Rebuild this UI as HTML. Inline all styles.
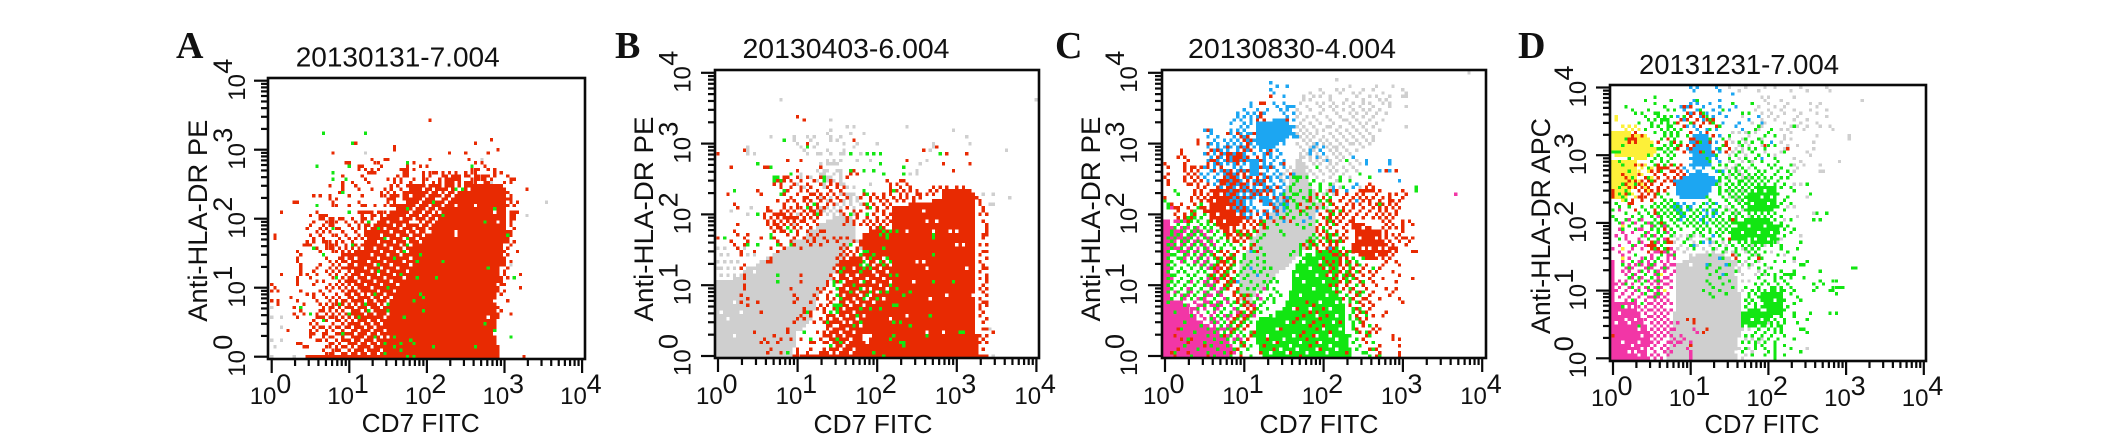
<!DOCTYPE html>
<html>
<head>
<meta charset="utf-8">
<title>CD7 vs HLA-DR dot plots</title>
<style>
html,body{margin:0;padding:0;background:#fff;width:2126px;height:445px;overflow:hidden}
svg{display:block}
text{font-family:"Liberation Sans",sans-serif;fill:#111}
.letter{font-family:"Liberation Serif",serif;font-weight:bold;font-size:38px}
</style>
</head>
<body>
<svg id="figure" width="2126" height="445" viewBox="0 0 2126 445" xmlns="http://www.w3.org/2000/svg"></svg>
<script>
// Values are cytometer channels: 24 channels per x decade, 21 per y decade.
// Rows are [yChannel, xChannel, xChannel, ...]; regions are [x,y,x,y,...] outlines of saturated populations.
const tickExponents = [0,1,2,3,4];
const minorMultipliers = [2,3,4,5,6,7,8,9];

const aRedRegions = [[24,0,24,28,28,31,30,38,34,42,42,47,46,52,60,53,72,52,73,42,71,27,69,17,70,4,71,0],[11,-0.5,35,-0.5,35,0.5,11,0.5]];
const aRedRows = [
[72,49],[66,68],[65,25,26,63],[64,38],[63,38,70],[62,19,55,60,67],[60,31,35,36,49,61],[59,24,23,32,33,42,44,63,65],[58,27,28,34,42,46,48,66],
[57,27,29,31,33,40,41,42,44,62,63,64,67,69],[56,30,31,32,41,42,47,49,50,51,53,55,57,60,62,63,69,71],[55,22,28,39,41,42,47,49,53,54,56,57,58,60,61,63,64,65,66,67,69,73],
[54,23,29,36,38,40,44,47,48,52,54,55,56,57,58,62,63,64,65,66,68,74,75],[53,22,25,30,38,40,43,47,50,52,54,55,56,58,60,61,62,63,66,67,72,74],[52,18,22,26,37,39,42,43,44,45,47,50,52,53,55,57,60],
[51,22,27,31,35,37,40,43,44,45,46,48,50,52,56,58,79],[50,21,22,34,36,38,41,42,43,44,45,47,48,50,51,53,55,73],[49,13,15,18,24,28,34,35,37,38,39,41,42,44,46,48,50,52,53,74],
[48,18,20,36,37,38,41,42,44,46,49,50,51,73,74],[47,7,8,19,27,36,38,42,44,46,48,49,50,52,74,76],[46,14,19,20,24,28,29,32,35,37,38,39,40,42,43,45,47,48,73,75],
[44,3,14,27,28,29,30,31,33,34,35,37,38,39,42,44,45,47,74,75,76],[43,12,15,16,17,28,31,32,34,36,38,39,41,43,44,47,48,74,75],[42,15,16,18,19,21,22,25,28,29,31,34,36,38,41,42,43,45,74,75],
[41,13,17,18,19,20,23,26,28,30,33,34,37,40,43,45,46,74],[40,12,16,18,19,24,27,29,30,33,35,37,38,42,44,74],[39,11,15,17,20,21,25,27,29,32,34,36,38,41,43,44,75],
[38,14,16,18,22,26,29,31,33,35,37,39,42,74,73],[37,1,12,15,19,20,23,27,29,31,32,34,36,38,40,41,43,74,73],[36,1,13,16,21,24,26,28,30,33,35,37,39,41,44,73],
[35,11,13,16,17,18,20,22,25,29,31,32,34,36,38,40,42,73,75],[34,10,11,12,17,18,19,20,23,26,28,30,33,35,37,39,43,74],[33,14,17,18,19,21,23,25,27,29,31,32,34,36,40,42,73],
[32,8,15,19,20,22,24,26,27,28,30,33,35,37,39,40,44,72,76],[31,9,16,22,23,24,25,26,27,28,29,31,34,36,38,43,73],[30,8,17,21,22,24,25,27,29,30,32,33,35,37,39,41,72],
[29,8,18,20,22,23,25,28,30,32,34,36,40,72,74],[28,9,15,19,21,24,26,27,29,31,33,35,37,39,42,72],[27,9,14,18,20,22,23,25,27,30,32,34,38,41,73],
[26,9,13,17,19,21,24,26,28,29,31,33,35,37,40,72],[25,3,9,11,14,18,20,23,25,27,30,32,34,36,39,72,77],[24,8,12,19,22,24,26,28,29,31,33,35,38,71,73],
[23,8,14,16,21,23,25,27,30,32,34,37,71],[22,0,8,13,18,20,22,24,26,28,29,31,33,36,71,72],[21,1,17,19,21,23,25,27,30,32,34,35,70,77],
[20,0,2,9,15,18,22,24,26,28,29,31,33,70,72],[19,11,13,16,20,23,25,27,30,32,34,69,71],[18,6,13,17,19,21,24,26,28,29,31,33,69],
[17,0,2,8,14,18,20,22,23,25,27,30,32,34,70,73],[16,2,10,15,17,19,20,21,22,24,26,28,29,31,33,68],[15,7,16,18,19,21,23,24,25,27,30,32,34,69,70],
[14,9,15,16,18,20,22,24,26,28,31,33,69,71],[13,7,10,14,17,19,21,23,25,27,29,30,32,34,68,70,74],[12,8,14,15,16,18,19,20,22,24,26,28,31,33,68,70],
[11,13,16,17,20,21,23,25,27,29,30,32,34,69],[10,12,14,19,22,24,26,28,29,31,33,68,69],[9,13,15,16,18,20,21,23,25,27,30,32,34,68],
[8,5,12,14,17,19,22,24,26,28,29,31,33,35,67,69],[7,12,13,16,17,20,21,23,25,27,30,32,34,68],[6,12,16,18,19,22,24,26,28,29,31,33,67],
[5,14,15,17,20,22,23,25,27,30,32,34,67,68],[4,8,9,18,19,21,24,26,28,29,31,33,67],[3,10,11,17,18,20,22,23,25,27,30,32,34,66,68],
[2,16,19,20,21,24,26,28,29,31,33,67],[1,17,18,19,22,23,25,27,30,32,34,66],[0,78]];
const aGreenRows = [[68,16,29],[65,25],[59,42],[58,14,24,62],[56,19],[54,19,23],[51,57,59],[50,22],[47,50],[46,14],[45,42,69],[44,24],[43,53],[41,30,66],[39,33,19],[37,73],[36,42,35],[34,25,42],[33,13],[32,41],[31,16,46],[30,38],[29,45,53],[28,33],[27,67],[26,33],[25,40],[24,20,45,51,75],[21,36],[19,32,46],[18,47],[17,44],[16,36,29,21],[15,9],[14,30,36,47],[13,12,24],[12,41,27],[11,16],[10,66],[8,69],[7,22],[6,74,32,38],[5,43],[4,35,40,44],[3,50,63,38],[2,40],[1,35],[0,42,44]];
const aGreyRows = [[62,29],[60,65],[55,73],[54,75],[53,68],[47,85],[43,79],[28,74],[17,0],[15,0],[12,3,0],[9,3],[5,0,3],[3,1],[0,0,7]];
const aHoleRows = [[51,61],[46,63,57],[44,69],[41,44,45,70],[38,57],[37,57],[17,70],[12,67],[7,69],
[1,24,27,30,33],[2,25,29,34],[3,24,26,31],[4,27,30,33,35],[5,25,28,32],[6,24,29,34,36],[7,26,30,33],[8,24,27,31,35],[9,25,29,32],[10,28,31,34],[11,24,26,30,33],[12,25,27,35],[13,29,32,36],[14,24,28,31],[15,26,30,34],[16,25,27,33,35],[17,24,29,32,36],[18,26,31,34,37],[19,25,28,30,35],[20,27,33,38],[21,24,26,31,36],[22,25,29,34,39],[23,27,32,37],[24,26,30,35,41],[25,24,28,33,38],[26,25,31,36,42],[27,29,34,39],[28,26,32,37,43],[29,30,35,41],[30,33,38,43],[31,31,36,40],[32,34,39,42],[33,32,37,41],[34,35,40,43],[35,33,38,42,46],[36,36,41,45],[37,34,39,43,47],[38,37,42,45,48,49],[39,35,40,44,48],[40,38,41,46,49],[41,36,43,47,50],[42,40,44,48,51],[43,42,46,49],[44,43,47,50,52],[45,44,48,51],[46,45,49,53],[47,46,50,54],[48,47,51,52,55],[49,48,53,56],[50,49,52,54,57],[51,47,50,55,58],[52,48,53,57,59]];

const bGreyRegions = [[-1,0,-1,22.6,4.5,22.6,9,26.5,14.6,29,24.6,34.5,29.6,38.4,34.7,41.4,37.7,42.4,40.7,41.4,41.7,34.5,37,28.5,33.7,21.6,29.6,16.6,28.6,10.7,23.6,6.7,22.6,0]];
const bGreyRows = [[76,96],[76,19],[70,34],[68,39,41,57],[67,34,71],[66,33,40,44],[65,16,23,27,29,34,37,75],[64,23,28,34,36,41],[63,24,30,38,42,48,65,76],[62,9,25,29,41,65],[61,9,26,33,38,64,87],[60,9,11,27,30,31,34,37,38,40,43],[58,33,35,37,42,46,63],[57,31,33,34,35,36,61],[55,30,32,33,36,37,60],[54,25,31,32,35,37,60,58],[53,25,28,33,34,37,39],[52,19,25,30,33,35,37],[51,24,32,34,36,37,38,46],[50,26,32,36,39,41],[48,33,35,37,39,40,41,80,83],[47,31,34,36,39,40,42,88],[46,31,33,38,40,42],[45,27,36,38,40,43,82,83],[44,10,31,33,35,37,39,41],[43,4,30,32,34,36],[42,9,24,33,35,37,41],[39,6,23,30,32,36],[36,24,27,39],[34,23,42,44],[32,0,2,8,21,43],[30,1,3,6,9,11,44],[28,0,2,4,6,42],[26,0,1,3,5,10],[24,1,3,5,7,9],[8,82],[0,83]];
const bRedRegions = [[52.8,44.4,59.8,45.3,66.8,46.3,67.8,49.3,75.9,49.3,77.9,46.3,78,26.5,77.9,6.7,79,0.8,82,0,30.7,0,32.7,6.7,33,12,36,14,37,28,44,30,44,36,48,38,53,38]];
const bRedRows = [
[71,24],[70,26],[64,41],[63,27],[62,66],[61,8,62],[60,0,69,75],[58,57,25,21],[57,12,68,76],[56,4,14,15,31],[55,71,24,41],[54,40,42],[53,17,20,21,24,27,31,39],[52,18,20,22,25,29,34,51,55,56],[51,17,19,23,27,31,34,36,52,54,57],[50,19,22,25,28,33,36,38,52,55,58,65,67,69,72,74],[49,12,21,25,27,30,34,37,44,52,54,56,58,60,64,66,68,69,70,73,76],
[48,3,13,20,24,28,29,31,33,35,38,44,47,50,52,55,57,60,61,63,65,69,71,77],[47,22,26,27,30,32,36,39,43,46,48,50,53,55,57,59,61,78],[46,18,21,23,26,28,31,34,37,46,49,51,54,56,59,79],[45,5,20,24,27,30,33,35,44,47,50,52,79],[44,6,15,20,22,24,25,28,30,32,39,45,48,51,80],[43,15,16,19,21,23,26,28,29,31,37,41,43,48,50,53,59,80],
[42,14,17,18,19,20,22,25,27,29,31,38,40,42,47,50,52,79,81],[41,14,16,18,20,21,22,23,24,26,28,30,39,42,45,48,51,53,55],[40,15,17,19,21,23,25,26,29,39,41,44,46,48,50,52,55,80],[39,6,15,17,18,20,22,24,27,30,38,41,43,45,47,49,51,53,81],[38,16,18,19,21,23,25,28,46,48,50,55,81],[37,5,17,19,20,22,24,27,31,32,53,55,57,81],
[36,6,9,21,24,28,30,44,46,50,52,80,81],[35,0,8,13,17,23,26,29,32,35,37,39,80],[34,4,9,18,22,27,29,33,36,41,43],[33,5,8,12,19,23,28,31,38,40,43,79,81],[32,6,16,20,25,37,39,42,45,47,50],[31,7,11,18,38,40,42,44,80,81],[30,7,37,39,41,43,79],[29,6,16,36,38,40,43,45,47,81],[28,15,16,37,39,42,45,47,79],
[27,8,36,38,41,44,46,48,50,80],[26,7,35,37,40,43,45,47,80,81],[25,36,38,42,44,48,79],[24,8,25,34,37,40,43,46,50,81],[23,8,35,38,41,44,47,79,81],[22,25,33,36,39,42,45,48,81],[21,8,33,35,38,41,44,46,80],[20,8,22,30,32,37,40,43,46,48,79,81],[19,31,34,36,39,42,45,80],[18,7,23,29,33,36,38,41,44,81],[17,9,24,30,33,35,38,40,43,79],
[16,7,12,23,28,34,37,39,42,80,81],[15,9,31,33,36,38,41,79,81],[14,26,30,32,35,37,40,79],[13,13,26,28,32,34,36,38,80],[12,28,25,33,35,79],[11,24,26,31,34,81],[10,23,29,32,80],[8,21,33,35,37,80,81],[7,11,21,30,32,34,83],[6,17,32,79,81],[5,14,19,22,25,31,34,80],[4,13,15,18,28,29,79,81],[2,16,24,28,80],[1,15,19,21,24,27],[0,23,24,25,26,27,28,29,30]];
const bGreenRows = [[64,20],[62,27],[60,40,45,47,49,67],[57,12,49],[56,16,56],[55,40,44,47],[54,22,50,56],[53,17,18,32],[52,17,19,32],[49,5,20,44,53],[48,19,45],[45,29,45],[44,27,46],[42,12,30,40,45],[38,49,21],[37,54,50,52,22],[36,16,65,49,51],[35,2,51,65,16],[33,18,9,12,22,40],[32,50],[31,44,45],[30,65,43,47],[29,46,51],[28,44,49,52],[27,43,45,50],[26,38,44,46],[25,37,43],[24,18,52,54],[22,18,35,37,44,65,71],[21,35,41,52],[20,36,43,54],[19,40,46,49,51,58],[18,36,45,56],[17,37,44,48],[15,35,36,37,53,54],[14,36,43,46,49],[13,27,34,36],[12,42,64],[10,33,43,53,55],[9,41,58],[7,26,73,74],[6,53,63],[5,28,36,52],[4,37,55,56],[3,34,56],[1,47,21],[0,50]];
const bHoleRows = [[30,4,6,8],[29,2,6,9],[27,2,5,11],[25,5,11],[16,5],[13,1,7],[11,3],[6,5],[43,62],[40,47,63,66],[37,57,65],[28,60,62],[22,59,65],[17,64],[12,57,64],[11,52],[6,44,45,46],[5,45,44],[4,45,31],[3,32,33],[37,70,72],[33,72,74],[26,63,75],[18,69,77],[7,63,68],
[29,44,46,50],[28,45,48,51],[27,44,47,52],[26,38,41,46,49],[25,37,43,47,51],[24,39,42,48],[23,36,40,45,50],[22,38,43,47,52],[21,37,41,49],[20,39,44,46,51],[19,36,40,42,48],[18,38,43,46],[17,37,41,45,50],[16,39,42,47],[15,36,40,44],[14,38,43,46],[13,35,41],[12,36,39,44],[11,34,37,42],[10,33,38,40],[9,35,36,43],[8,34,39],[7,33,37,41],[6,35,38],[5,33,36,40],[4,34,39],[3,35,38],[2,33,37,41],[1,34,36,40]];

const cPinkRegions = [[-1,0,-1,16.6,5.5,16.6,8.6,11.7,15.6,7.7,21.7,1.8,20.7,0],[-1,41,1.5,41,2,17,-1,17]];
const cPinkRows = [[44,1,2,3],[40,3,4,6],[38,2,3,5,7,10,14],[37,3,4,6,9,11,14,28],[36,2,3,5,8,12],[35,2,4,5,7,10,13],[34,3,6,9,11,14,30],[33,2,5,8,12,15],[32,3,4,7,10,13],[31,5,6,9,12,14],[30,2,3,7,11,15,33],[29,4,6,8,10,13],[28,2,5,9,12,16],[27,3,7,11,14],[26,2,5,8,13,16],[25,4,6,10,12,15],[24,3,7,9,14],[23,2,5,11,13,16],[22,4,8,10,12,15,28],[21,3,6,9,13,14],[20,5,7,11,15,17,30],[19,3,4,8,10,12,16,26],[18,5,6,7,9,13,14,17,28],[17,6,8,10,11,12,15,18,25,29],[16,9,12,13,14,16,19],[15,7,10,11,14,15,17,20,27],[14,8,9,12,16,18,21,28],[13,8,10,13,15,17,22,26],[12,9,11,14,16,18,20,24,27],[11,12,15,17,19,21,25],[10,14,16,18,20,23],[9,15,17,19,22],[8,17,18,20,21,24],[7,18,20,23],[6,19,22,24],[5,21,23],[3,24],[48,88]];
const cGreyRegions = [[21.7,18.6,22.7,26.5,26,34,33,44,38,52,40.8,61.2,46,45,46,36,41,30,35,25,28,19,24.7,14]];
const cGreyRows = [[84,92],[82,52],[80,56,64,69],[79,47,52,54,60,63,72],[78,44,48,53,57,59,66,73],[77,42,45,47,50,58,62,64,68,72,73],[76,42,44,50,55,60,65,67],[75,41,46,48,51,54,57,60,62,66,68],[74,43,47,50,52,56,59,63,68,73],[73,40,44,48,51,54,57,60,62,65],[72,39,41,47,52,56,58,61,64,67],[71,40,43,45,49,53,57,60,63],[70,39,42,46,50,54,55,58,62,66],[69,41,44,47,51,56,59,61,64],[68,40,42,45,49,50,53,57,60,63,73],[67,41,43,46,48,52,55,58,61,65],[66,40,42,44,46,50,53,56,59,62],[65,39,41,43,45,48,51,54,57,60,63],[64,42,44,47,49,52,55,58,61,63],[63,40,43,45,48,50,53,56,57,59,62],[62,41,44,46,49,51,52,54,60],[61,42,45,47,50,52,55,58],[60,43,46,48,51,53,56],[59,42,44,47,49,52,54,57],[58,41,44,46,48,50,53,55,58],[57,40,42,45,47,50,52,56,59],[56,38,40,43,46,49,51,54,57],[55,37,41,44,47,50,52,55,58],[54,36,39,42,45,48,51,54],[53,35,38,41,43,46,50,53,56],[52,36,40,42,45,48,52],[51,38,41,44,47,51],[50,37,40,43,47,50,53,59],[49,39,42,45,49,52,55,60],[48,41,44,48,51],[47,43,46,50],[45,46,47],[44,47,49]];
const cRedRegions = [[10.6,44.4,15.6,45.3,18.6,42.4,18.6,38.4,12.6,42.4],[13,46,19,55,24,52,25,42,20,37,14,40],[18.6,61,22.7,61,22.7,58,18.6,58],[56.5,40.4,65,37.4,66.5,32.5,68,29.5,62,28.5,56,30.5,57.5,34.5]];
const cRedRows = [
[77,32],[75,29,30],[72,29],[71,28,29],[70,28,30,37],[69,28,31],[68,23,30],[67,13,22,24,28],[66,14,19,22,25,27],[65,23,25,28],[64,10,15,20,24,26,30],[63,10,13,16,21,25,28,30],[62,13,16,19,23,25,27,31],[61,5,14,16,24,26,29,32],[60,5,13,15,17,19,23,27,31],[59,4,6,14,16,23,25,28],[58,7,14,15,16,18,24,26,29,33],[57,0,6,13,16,17,19,22,24,27,30,36],[56,1,6,8,9,11,13,15,17,21,23,26,29,32],[55,6,8,10,14,15,18,20,23,25,28,31,67,70],[54,1,7,9,11,13,16,18,20,22,24,27,29,38],
[53,0,6,8,10,12,18,20,22,24,26,28,31],[52,1,6,9,11,18,19,21,23,25,28,30],[51,1,7,8,10,13,18,20,22,24,27,29,33,62],[50,10,12,19,21,23,25,27,31,34,61,63],[49,9,11,14,18,20,22,24,26,28,30,32,50,52,59,60,61,62,63,65,72],[48,9,11,13,15,17,19,21,24,27,29,31,33,46,52,55,58,60,64,68,70,73],[47,0,8,10,12,14,16,18,20,22,25,26,33,36,44,48,54,57,59,61,63,66,68,72],[46,8,11,13,15,17,19,21,23,29,31,37,44,50,53,56,58,60,62,65,68,69,71],[45,2,5,9,17,19,20,22,24,32,35,41,48,51,55,57,59,62,64,66,68,70],[44,3,4,7,19,21,23,25,27,33,36,43,46,52,54,57,60,63,65,67,69,71],[43,4,8,19,20,22,24,26,30,34,41,46,49,51,54,56,59,62,65,67,70],[42,3,6,9,19,21,23,26,28,31,47,50,53,55,58,61,64,66,68,70],
[41,4,6,8,19,20,22,24,26,29,31,36,48,50,52,54,57,60,63,65,67,69],[40,7,15,17,19,21,23,25,27,29,33,38,49,51,53,56,66,68,72,74],[39,16,18,20,22,24,26,28,30,47,49,52,55,67,69,72,75],[38,17,20,21,24,27,30,46,50,54,66,68,70,72],[37,18,19,21,23,25,28,46,48,52,55,67,72],[36,19,20,22,24,26,47,49,51,54,67,69,71],[35,19,21,23,25,49,53,55,67,70,72,73,75],[34,21,22,24,44,47,50,52,54,68,71,74],[33,27,42,45,48,50,52,69,67,73],[32,24,26,43,46,49,51,69,68,70],[31,17,19,22,28,47,50,53,55,68,70,75,76],[30,15,18,21,51,52,54,69],[29,16,19,20,48,53,55,66,68],[28,17,18,21,49,51,53,56,67,70],[27,16,18,20,47,50,53,55,58,61,66,71],[26,15,17,19,48,51,54,57,60,65],[25,16,18,21,50,53,56,59,62,64,69],[24,14,17,19,49,52,55,57,60,63,71],[23,15,18,20,51,54,58,62,66,75],
[22,16,19,21,53,56,59,63,70],[21,18,20,50,52,55,60,64],[20,19,22,54,57,61,67,70],[19,21,52,56,59,63,69],[18,21,23,25,58,62,68],[17,22,24,54,57,60,61,65,71],[16,22,25,43,59,62,72],[15,24,26,45,56,60,63],[14,25,27,40,48,58,62],[13,26,23,44,46,59,61,67],[12,22,25,42,49,58,63,66],[11,21,24,40,47,59,61],[10,20,23,39,45,53,60],[9,22,25,44,48,60,64],[8,4,21,24,35,46,58,65,63],[7,20,27,42,50,59,64,62],[6,3,18,26,41,45,61,69],[5,5,8,25,31,43,60,69,71],[4,7,23,34,46,61],[3,12,24,30,44,65,71],[2,4,22,33,47,62,64],[1,2,7,20,29,38,55,65,71],[0,3,13,23,41,64,71]];
const cGreenRegions = [[27.7,10.7,35.8,13.7,37.8,18.6,38.8,25.5,41.8,29.5,49.9,32.5,52.9,30.5,51.9,23.6,53.9,16.6,54.9,6.7,55.9,2.8,57,0,29.7,0,26.7,5.7]];
const cGreenRows = [[58,55],[56,46],[54,59],[53,39,40,41,43,53,62],[52,40,45,53,56],[51,39,44,47,50],[50,38,47,54,76],[49,3,38,41,44,47,76],[48,4,40,36,39,44,49],[47,0,38,42,46,50],[46,0,39,43,47,49],[45,1,11,36,40,45,48,50,65],[44,1,10,15,37,40,44,46,48,52],[43,9,13,16,38,42,46,50,53],[42,8,12,14,15,37,41,43,47,51],[41,4,7,9,11,14,17,35,39,44,49,52],[40,5,8,10,13,16,20,30,38,42,46,50,53],[39,4,7,11,13,15,18,21,29,34,40,44,47,51],[38,3,6,9,12,14,17,20,24,31,42,48],[37,2,5,8,10,13,16,19,22,27,35,46,49,52],[36,2,4,7,9,11,15,18,20,23,25,30,36,45,47,50,52,54],
[35,1,3,6,8,12,14,17,21,26,29,44,46,48,50,53,55],[34,2,5,7,10,13,16,19,24,28,43,45,47,49,51,53],[33,1,3,6,9,11,14,18,20,23,26,41,42,44,46,48,50,52],[32,2,5,8,12,15,17,21,29,41,44,52,54,57],[31,1,4,7,10,13,16,19,22,27,39,41,53,56,58],[30,2,3,6,9,12,14,18,20,24,30,38,41,43,53,55,59],[29,1,4,5,8,11,15,17,21,24,28,55,57,60],[28,2,6,10,13,16,19,23,26,30,55,58],[27,1,3,7,9,12,15,18,21,25,28,56,59],[26,2,5,8,11,14,17,20,24,30,32,56,57,63],[25,1,4,6,10,12,16,19,23,27,29,55,58],[24,2,3,7,9,13,15,18,22,25,31,54,56,60],[23,1,5,8,11,14,17,21,24,33,55,57],[22,2,4,7,10,13,16,20,26,30,32,34,55,59,60],[21,1,3,6,9,12,15,19,23,28,31,55,58],[20,2,5,8,11,14,18,25,27,31,33,56,61],[19,1,4,7,10,13,17,22,29,34,56,58,60],[18,3,6,9,12,16,24,26,32,35,55,59,62],
[17,2,5,8,11,15,19,28,31,33,56,57,60],[16,1,14,17,21,24,27,30,33,56,58,62],[15,6,12,16,20,23,26,29,56,60],[14,10,15,18,22,25,28,31,57,59],[13,3,13,17,20,24,27,29,57,60],[12,8,16,19,23,26,56,61],[11,14,17,22,25,56,58],[10,6,15,18,21,24,26,57,59],[9,11,17,20,23,25,57,62],[8,5,13,16,19,22,24,57],[7,9,15,18,21,23,26,58,61],[6,3,13,17,20,24,56,62],[5,7,15,19,22,25,58,60],[4,12,17,21,24,57,63],[3,6,14,19,23,26,59],[2,10,16,21,25,58,63],[1,3,13,18,23,60,61],[0,8,15,20,26,62,65]];
const cGreenGapRows = [[1,32,37,43,49],[2,35,40,46,52],[3,30,38,44,50],[4,33,41,47],[5,36,43,52],[6,31,39,46,50],[8,34,48,53],[10,37,42,51],[12,33,46,52],[14,39,44,50],[16,36,47,52],[18,41,49,53],[20,38,45,51],[22,42,48],[24,40,46,50],[26,44,49],[28,42,47],[30,45,51]];
const cRedGapRows = [[58,20],[56,15,19],[54,17,21],[52,15,20,24],[50,18,22],[48,14,17,23],[46,15,20,25],[44,13,19],[42,16,22],[40,15,18,24],[38,20,23,60,63],[35,59,64],[32,60,62,65],[30,58,64]];
const cBlueRegions = [[27.7,69,35.8,70.6,38.8,66,34.8,63,29.7,61,27.7,63],[28.7,47.3,31.8,47.3,32.8,45.3,29.7,44.4],[25.7,58.2,28.7,58.2,28.7,53.3,25.7,53.3]];
const cBlueRows = [[81,32],[80,34,37],[79,32],[78,33],[77,36],[75,26,33,36],[74,26,34,37,38,39],[73,24,28,31,35,37],[72,22,25,27,30,36,39],[71,22,24,26,28,37],[70,21,23,26,39],[69,20,24,26,37],[68,25,23,38,39],[67,12,14,20,22,24,37,38],[66,14,20,23,25,26,38,39],[65,13,16,21,24,39,40],[64,15,18,20,22,25,27],[63,14,16,19,21,23,26,29,32,36,46],[62,13,16,18,20,22,24,27,30,33,45,48],[61,15,17,19,22,25,29,31,34,44,47],[60,12,15,18,21,24,27,30,32,35,44,48],[59,14,17,20,24,30,32,34,46,57],[58,13,16,18,20,23,25,30,33,36,49,61,68],[57,15,17,19,21,24,30,32,35,61,68],[56,12,15,21,23,30,31,33,36],[55,14,17,19,22,24,31,34,65,68],[54,11,13,16,18,21,30,33,35,39],[53,12,15,19,22,25,30,32,34,37],[52,13,16,20,23,27,29,32,35,71],[51,15,19,22,25,28,30,33,36,58],[50,17,21,24,27,30,32,35,51,57],[49,20,23,25,27,29,31,33,36,51,55],[48,19,22,24,26,28,33,35],[47,21,23,25,27,34,37],[46,20,22,24,26,34,36,58],[45,22,24,26,33,35,37],[44,21,23,25,27,34,36],[43,22,25,28,31,33,36,46],[42,24,26,30,34],[41,25,29,32,44],[40,36,42],[32,50],[31,26],[26,26],[24,28],[22,22]];

const dYellowRegions = [[-1,70.3,10.5,69.8,13.6,64.6,10.5,61.5,1.2,62.6,-1,63.6],[-1,61.5,8,61.5,8,54,3,50,-1,50]];
const dYellowRows = [[75,1],[74,1],[72,3,5,7],[71,4,6,8],[60,4,6,8,10,13],[59,4,7,9,12],[58,5,8,11],[57,4,6,9,13],[56,5,7,10,12],[55,4,8,11,13],[54,6,9,12],[53,4,7,10],[52,5,8,11],[51,6,9],[50,4,7],[49,3],[48,5],[45,4],[41,3],[34,3],[31,3],[26,15],[21,16]];
const dPinkRegions = [[-1,18,6.4,18,8.5,14,11.5,7.8,10.5,0,-1,0],[-1,31,1,31,1,18,-1,18]];
const dPinkRows = [[58,0],[53,0],[46,2],[44,0,6,14],[43,1,5,9,15],[42,3,7,11],[41,5,12,16],[40,2,8,9,14],[39,3,6,11,17],[38,1,4,10,13,15],[37,4,8,11,16],[36,5,9,12,14],[35,2,7,10,15],[34,0,6,9,13,16,18],[33,2,5,13,14,15,16,17,19],[32,3,12,17,18],[31,3,5,9,12,17,19],[30,3,6,8,11,13,15,17],[29,3,5,7,9,11,13,16,18,19],[28,4,6,10,12,15,17],[27,3,5,8,11,14,16,19],[26,4,7,10,13,15,18],[25,5,6,9,12,14,16,17],[24,2,4,8,11,13,15,18],[23,1,3,6,9,12,14,16,17],[22,2,5,8,10,13,15,18],[21,1,4,7,11,12,14,16],[20,3,6,9,10,13,15,17],[19,2,5,8,11,12,14,16],[18,4,7,10,13,15,17],[17,7,9,11,12,14,16,18],[16,8,10,13,15],[15,9,11,12,14,16,18],[14,10,13,15,17],[13,11,12,14,16],[12,10,13,15,17],[11,12,14,16,18,20],[10,13,15,17],[9,12,14,16,18,19,25],[8,13,15,17,26],[7,12,14,16,18,21],[6,13,15,19,22],[5,12,14,17,18,20,21,24],[4,13,16,19,24],[3,12,15,17,23],[2,13,16,18,24],[1,12,14,17,24],[0,11,13,15,24]];
const dGreyRegions = [[19.8,18,20,29,26,32,32,33,37.3,30,39.4,18,39.4,7.8,37.3,0,16.7,0,17.7,7.8]];
const dGreyRows = [[84,36,41,47,50,58,66],[83,33,39,45,55,60,67],[81,46,48,56],[80,47,52,77],[79,48,54,61,64],[78,45,50,53,63],[77,36,44,48,52,56,61,66],[76,46,49,53,58,63],[75,35,40,48,51,57,66],[74,46,50,56,60,60],[73,43,47,53,58,63],[72,46,55,57,60,64,67],[71,45,49,52,54,59,68],[70,37,39,41,44,48,55],[69,42,50,53,63,73],[68,36,40,46,53,55,73],[67,37,41,52,62],[66,39,42,46,54,57],[65,36,38,40,42,44,53,62],[64,37,40,43,47,52,60],[63,36,38,41,45,50,61],[62,36,39,44,56],[61,36,40,43,58,70],[60,35,38,50,56,59,64],[59,35,37,42,57],[58,34,39,56,64,65],[57,36,40,46],[56,36,40,42,54],[54,33,35,56,58],[52,33,36,40,46],[50,36,38,60],[49,35,39,53],[47,35,37,54,56],[46,36,40],[45,38,62],[44,36,57,42],[43,36,41,53],[40,37,43,47,50],[38,19,21,23,25,27,46,58],[37,20,24,29,44,48,52],[36,19,22,25,28,31,34,46,51],[35,21,26,30,33,35,43,47],[34,20,23,28,32,38,40,45],[33,22,29,31,35,37,41,49],[32,24,27,30,34,38,44,53],[31,31,35,36,42,46],[30,28,38,41,45,56],[29,38,40,43],[28,39,42,48],[27,39,45],[26,40,44,47],[24,40,42],[21,40,43],[18,41],[14,41,43],[11,41,45,48],[9,40,42,50],[6,41,43,46],[5,40,45],[4,38,44],[3,39,42,60],[2,40,43],[1,38,41],[0,38,40]];
const dBlueRegions = [[18.8,55.3,27,58.4,32.2,55.3,29,50.2,26,49,19.8,50.2],[25,60,30,60,31,68,27,70,25,66]];
const dBlueRows = [[84,24,26,32],[83,25,33],[82,37],[80,25,33],[79,24,26,30],[78,21,23,28,33,38],[77,22,26,31,36],[76,24,29,33],[75,20,27,31,35,45],[74,22,28,30,42],[73,24,28,34,39,46],[72,23,25,27,38],[71,26,29,32,40],[70,24,27,29],[69,25,26,27,28,29,33],[68,24,26,28,30],[67,24,25,28,30,32,49],[66,26,29,47],[65,23,26,29,32],[64,24,27,30,33],[63,25,28,31],[62,24,26,29,32,46],[61,25,27,30,33],[60,21,24,27,30,33],[59,22,25,28,31],[58,23,32,33,34],[48,20,22,25,29,32],[47,19,21,24,27,30],[46,20,23,26,28,31],[45,21,25,27,29,32],[44,19,22,24,28,31],[43,21,25,27,30],[42,22,24,29],[40,50,51],[38,31],[36,28,30],[35,25],[31,33],[29,29,35],[27,38],[26,34],[15,47]];
const dRedRows = [[78,22,24],[76,23,25,27],[75,24,28],[74,21,23,26,29,31],[73,20,25,28,30],[72,22,27,32],[70,7,24,29],[69,6,9,31],[68,7,5,6,17,24,25],[67,5,7,14,19,26,30,35],[66,21,23,25,35,47],[65,20,24,36,54],[64,22,27,31,35],[60,7,9,14,18,21],[59,14,15,16,17,20],[58,12,14,18,19,21],[57,3,8,13,16,20,22],[56,4,10,14,17,19,21],[55,5,7,9,11,13,16,18],[54,4,8,10,12,15,19],[53,5,7,9,11,14,17],[52,0,8,10,12,14,16],[51,0,4,9,11,13],[50,0,8,9,10,13],[49,6,9,12],[48,5,6],[46,7,13],[45,13],[43,37],[42,15],[40,16],[37,36,17],[36,12,17,18],[35,12,11,13],[34,12,14,17],[33,11,15],[32,37],[31,38,45],[12,23,25],[11,25],[9,29],[8,28],[7,0],[4,24]];
const dGreenRegions = [[42,46,50,46,51,53,44,54,41,50],[36,37,44,36,50,36,52,41,46,44,38,42],[47,14,52,14,53,21,49,23,46,19],[40,9,47,10,49,13,44,16,40,14]];
const dGreenRows = [
[81,13],[80,10,18,26],[79,13,37,43],[78,4,16,22],[77,6,11,17,19,27,34],[76,7,9,13,14,28,40,42],[75,10,14,16,18,22,29],[74,11,13,15,16,17,26,30],[73,8,12,15,17,19,24,31],[72,12,14,17,18,22,33,45,56],[71,10,15,17,19,21,30,44,49],[70,13,16,18,20,29,42,48],[69,16,18,20,23,36,47,50],[68,4,15,17,19,30,34,41,45],[67,14,18,21,27,39,43,46],[66,3,12,16,18,20,34,40,48,50],[65,14,15,17,19,33,42,44,47],[64,0,1,2,16,18,28,39,43,53],[63,11,14,17,19,32,38,45,48],[62,5,13,15,18,29,36,41,44,50],[61,2,12,15,17,30,37,42,46,51],[60,3,13,16,19,33,35,39,43,48,50,55],[59,11,14,17,31,38,40,44,49,52],[58,5,12,15,18,33,36,38,41,45,47,51,54],[57,8,13,16,34,37,39,42,44,46,50,55],
[56,6,11,14,33,35,38,41,43,45,47,49,52,54],[55,9,12,33,36,39,40,42,44,46,48,51],[54,3,7,32,35,37,39,41,43,45,47,50,53,60],[53,2,5,33,36,38,40,42,44,46,48,52,55],[52,4,16,33,35,37,39,41,43,45,47,49,56],[51,2,5,14,17,33,36,38,40,42,44,46,48,51,61],[50,3,15,29,34,37,39,41,43,45,47,50,54],[49,4,12,16,18,30,35,38,40,42,44,46,49,53],[48,1,6,13,15,17,19,28,31,36,39,41,43,45,47,50,52,55],[47,2,5,9,12,14,16,18,20,23,27,30,33,37,40,42,44,46,48,51],[46,0,7,10,13,15,17,19,21,24,26,29,32,35,38,41,43,45,47,49,53],[45,4,8,11,14,16,18,20,22,25,27,31,34,37,39,42,44,46,48,50,63,66],[44,0,6,9,12,15,17,19,21,24,26,29,33,36,38,40,43,45,47,49,52],[43,1,4,8,13,15,18,20,23,25,28,30,32,34,36,38,41,44,46,48,50,55,62,64],
[42,2,6,10,12,14,16,19,22,24,26,28,31,33,35,37,39,41,43,45,47,49,52],[41,5,9,13,15,17,20,23,25,27,29,32,34,36,38,40,42,44,46,48,50,52,54],[40,3,7,12,14,18,21,26,28,30,33,35,37,39,41,43,45,47,49,51,53,56],[39,10,14,16,19,25,27,30,32,34,36,38,40,42,44,46,48,50,55],[38,9,12,15,18,24,28,33,37,39,41,43,45,47,49,53],[37,2,11,14,17,23,30,34,38,40,42,44,46,48,51],[36,8,13,16,22,27,32,36,39,41,43,45,47,50,58],[35,6,12,15,24,33,37,40,42,44,46,49,52],[34,13,16,25,31,35,38,41,43,45,52,57],[33,11,17,34,38,42,44,47,54],[32,7,15,19,30,39,43,45,51],[31,10,14,34,42,46,56],[30,6,9,13,39,44,50,53,60],[29,3,8,12,30,36,42,47,59,58],[28,5,11,16,29,33,45,49,75,74],[27,9,13,32,38,47,52,56,64],
[26,6,10,14,30,35,46,48,50,53,54,55,56],[25,5,8,12,33,45,50,52,55,59],[24,7,10,14,29,36,47,50,53,64,68,69],[23,4,9,30,34,44,46,48,51,54,62,65],[22,6,11,14,31,37,41,45,49,52,55,63,68,69,70,71],[21,8,12,28,33,43,45,47,50,53,56,62,67,68],[20,10,14,30,35,42,44,46,49,51,55,69],[19,13,31,42,45,48,50,52,57],[18,6,41,43,46,48,49,51,53,58],[17,9,42,44,47,49,50,52,56],[16,3,41,44,46,48,50,51,54],[15,42,45,47,49,51,53],[14,43,46,48,50,52,56,61,67,69],[13,41,44,47,49,52,56],[12,42,45,48,50,53,60],[11,44,46,49,51,53,57],[10,8,43,47,49,51,52],[9,45,48,50,52,58,59],[8,44,47,50,52,60],[7,41,43,46,49,53],[6,45,48,51,56],[5,40,42,44,47,50],[4,44,46,50,53],[3,41,44,47,50,55],[2,40,48,50,58],[1,43,47,50,53],[0,50]];
const dGreenGapRows = [[52,44,47],[50,46,49],[48,43,48],[41,38,42,47],[39,40,45,49],[37,42,44,48],[21,48,51],[18,50],[15,47],[12,43,46],[10,41,45]];
const dHoleRows = [[29,24],[16,4,6],[14,2],[12,4,7],[11,1,5],[9,8],[7,9],[5,3,8],[4,6],[3,9],[2,5,7],[1,8]];

const redColor = "#e82a02", greenColor = "#12e612", greyColor = "#cfcfcf", pinkColor = "#f236a6", blueColor = "#1ca6f2", yellowColor = "#fdf039", holeColor = "#ffffff";

const panels = [
 {key:"a",letter:"A",letterX:176,letterY:58,title:"20130131-7.004",titleX:397.7,titleY:66.7,titleW:204,
  left:268,right:585,top:78,bottom:359,x0:271.7,xDec:77.6,y0:356.7,yDec:69,
  xLabelY:404,yLabelX:245,xTitle:"CD7 FITC",xTitleX:420.7,xTitleY:432,xTitleW:118,yTitle:"Anti-HLA-DR PE",yTitleX:207,yTitleY:220.7,yTitleW:202,
  layers:[
   {name:"grey",color:greyColor,rows:aGreyRows},
   {name:"red",color:redColor,regions:aRedRegions,rows:aRedRows},
   {name:"gap",color:holeColor,rows:aHoleRows},
   {name:"green",color:greenColor,rows:aGreenRows}]},
 {key:"b",letter:"B",letterX:615,letterY:58,title:"20130403-6.004",titleX:846,titleY:58,titleW:207,
  left:715,right:1039,top:70,bottom:358,x0:718,xDec:79.6,y0:356,yDec:70.8,
  xLabelY:404,yLabelX:690.7,xTitle:"CD7 FITC",xTitleX:873,xTitleY:433,xTitleW:119,yTitle:"Anti-HLA-DR PE",yTitleX:653,yTitleY:219,yTitleW:205,
  layers:[
   {name:"grey",color:greyColor,regions:bGreyRegions,rows:bGreyRows},
   {name:"red",color:redColor,regions:bRedRegions,rows:bRedRows},
   {name:"gap",color:holeColor,rows:bHoleRows},
   {name:"green",color:greenColor,rows:bGreenRows}]},
 {key:"c",letter:"C",letterX:1055,letterY:58,title:"20130830-4.004",titleX:1292,titleY:58,titleW:208,
  left:1162,right:1486,top:70,bottom:358,x0:1165,xDec:79.3,y0:356,yDec:70.8,
  xLabelY:404,yLabelX:1137,xTitle:"CD7 FITC",xTitleX:1319,xTitleY:433,xTitleW:119,yTitle:"Anti-HLA-DR PE",yTitleX:1100,yTitleY:219,yTitleW:205,
  layers:[
   {name:"pink",color:pinkColor,regions:cPinkRegions,rows:cPinkRows},
   {name:"grey",color:greyColor,regions:cGreyRegions,rows:cGreyRows},
   {name:"green",color:greenColor,regions:cGreenRegions,rows:cGreenRows},
   {name:"gap",color:holeColor,rows:cGreenGapRows},
   {name:"red",color:redColor,regions:cRedRegions,rows:cRedRows},
   {name:"gap",color:holeColor,rows:cRedGapRows},
   {name:"blue",color:blueColor,regions:cBlueRegions,rows:cBlueRows}]},
 {key:"d",letter:"D",letterX:1518,letterY:58,title:"20131231-7.004",titleX:1739,titleY:74,titleW:200,
  left:1610,right:1926,top:85,bottom:361,x0:1613,xDec:77.7,y0:358.3,yDec:67.7,
  xLabelY:406,yLabelX:1586,xTitle:"CD7 FITC",xTitleX:1762,xTitleY:433,xTitleW:115,yTitle:"Anti-HLA-DR APC",yTitleX:1550,yTitleY:226,yTitleW:216,
  layers:[
   {name:"grey",color:greyColor,regions:dGreyRegions,rows:dGreyRows},
   {name:"pink",color:pinkColor,regions:dPinkRegions,rows:dPinkRows},
   {name:"gap",color:holeColor,rows:dHoleRows},
   {name:"yellow",color:yellowColor,regions:dYellowRegions,rows:dYellowRows},
   {name:"blue",color:blueColor,regions:dBlueRegions,rows:dBlueRows},
   {name:"green",color:greenColor,regions:dGreenRegions,rows:dGreenRows},
   {name:"gap",color:holeColor,rows:dGreenGapRows},
   {name:"red",color:redColor,rows:dRedRows}]}
];

const NS = "http://www.w3.org/2000/svg";
const figure = document.getElementById("figure");
const channelsPerXDecade = 24, channelsPerYDecade = 21;

function node(parent, tag, attrs) {
  const el = document.createElementNS(NS, tag);
  for (const k in attrs) el.setAttribute(k, attrs[k]);
  parent.appendChild(el);
  return el;
}

function label(parent, x, y, str, size, extra) {
  const t = node(parent, "text", Object.assign({x:x, y:y, "font-size":size}, extra || {}));
  t.textContent = str;
  return t;
}

function insideRegion(r, cx, cy) {
  let inside = false;
  const n = r.length / 2;
  for (let i = 0, j = n - 1; i < n; j = i++) {
    const xi = r[2 * i], yi = r[2 * i + 1], xj = r[2 * j], yj = r[2 * j + 1];
    if ((yi > cy) !== (yj > cy) && cx < (xj - xi) * (cy - yi) / (yj - yi) + xi) inside = !inside;
  }
  return inside;
}

function drawPanel(p) {
  const g = node(figure, "g", {});
  
  

  const xChannel = c => p.x0 + c * p.xDec / channelsPerXDecade;
  const yChannel = c => p.y0 - c * p.yDec / channelsPerYDecade;
  const xDecade = e => p.x0 + e * p.xDec;
  const yDecade = e => p.y0 - e * p.yDec;
  const cw = p.xDec / channelsPerXDecade, ch = p.yDec / channelsPerYDecade;

  const clip = node(g, "clipPath", {id:"clip-" + p.key});
  node(clip, "rect", {x:p.left, y:p.top, width:p.right - p.left, height:p.bottom - p.top});

  const plot = node(g, "g", {"clip-path":"url(#clip-" + p.key + ")"});
  
  

  p.layers.forEach(layer => {
    const lg = node(plot, "g", {fill:layer.color, "shape-rendering":"crispEdges"});
    
    
    (layer.regions || []).forEach(r => {
      const xs = r.filter((v, i) => i % 2 === 0), ys = r.filter((v, i) => i % 2 === 1);
      const minX = Math.floor(Math.min(...xs)), maxX = Math.ceil(Math.max(...xs));
      const minY = Math.floor(Math.min(...ys)), maxY = Math.ceil(Math.max(...ys));
      for (let cy = minY; cy <= maxY; cy++) {
        let start = null;
        for (let cx = minX; cx <= maxX + 1; cx++) {
          const hit = cx <= maxX && insideRegion(r, cx, cy);
          if (hit && start === null) start = cx;
          if (!hit && start !== null) {
            const run = node(lg, "rect", {
              x:(xChannel(start) - cw / 2).toFixed(1),
              y:(yChannel(cy) - ch / 2).toFixed(1),
              width:(xChannel(cx - 1) - xChannel(start) + cw).toFixed(1),
              height:(ch + 0.1).toFixed(1)});
            
            
            start = null;
          }
        }
      }
    });
    layer.rows.forEach(row => {
      for (let i = 1; i < row.length; i++) {
        const rect = node(lg, "rect", {
          x:(xChannel(row[i]) - cw / 2).toFixed(1),
          y:(yChannel(row[0]) - ch / 2).toFixed(1),
          width:cw.toFixed(1), height:ch.toFixed(1)});
        
        
      }
    });
  });

  const frame = node(g, "rect", {x:p.left, y:p.top, width:p.right - p.left, height:p.bottom - p.top, fill:"none", stroke:"#0a0a0a", "stroke-width":2.6});
  
  

  const ticks = node(g, "g", {stroke:"#0a0a0a", "stroke-width":2.2});
  
  
  tickExponents.forEach(e => {
    node(ticks, "line", {x1:xDecade(e), x2:xDecade(e), y1:p.bottom, y2:p.bottom + 14});
    node(ticks, "line", {y1:yDecade(e), y2:yDecade(e), x1:p.left, x2:p.left - 14});
    if (e < 4) minorMultipliers.forEach(m => {
      const off = e + Math.log10(m);
      node(ticks, "line", {x1:xDecade(off), x2:xDecade(off), y1:p.bottom, y2:p.bottom + 7});
      node(ticks, "line", {y1:yDecade(off), y2:yDecade(off), x1:p.left, x2:p.left - 7});
    });
  });

  tickExponents.forEach(e => {
    const xt = node(g, "text", {x:xDecade(e) - 22, y:p.xLabelY, "font-size":24});
    
    
    xt.textContent = "10";
    const xs = node(g, "text", {x:xDecade(e) + 4.5, y:p.xLabelY - 11, "font-size":27});
    
    
    xs.textContent = String(e);

    const yy = yDecade(e) + 20;
    const yt = node(g, "text", {transform:"translate(" + p.yLabelX + "," + yy + ") rotate(-90)", "font-size":24});
    
    
    yt.textContent = "10";
    const ys = node(g, "text", {transform:"translate(" + (p.yLabelX - 13) + "," + (yy - 27) + ") rotate(-90)", "font-size":27});
    
    
    ys.textContent = String(e);
  });

  const letter = label(g, p.letterX, p.letterY, p.letter, 38, {"class":"letter"});
  
  

  const title = label(g, p.titleX, p.titleY, p.title, 28, {"text-anchor":"middle", textLength:p.titleW, lengthAdjust:"spacingAndGlyphs"});
  
  

  const xTitle = label(g, p.xTitleX, p.xTitleY, p.xTitle, 26, {"text-anchor":"middle", textLength:p.xTitleW, lengthAdjust:"spacingAndGlyphs"});
  
  

  const yTitle = node(g, "text", {transform:"translate(" + p.yTitleX + "," + p.yTitleY + ") rotate(-90)", "font-size":27, "text-anchor":"middle", textLength:p.yTitleW, lengthAdjust:"spacingAndGlyphs"});
  
  
  yTitle.textContent = p.yTitle;
}

panels.forEach(drawPanel);
</script>
</body>
</html>
